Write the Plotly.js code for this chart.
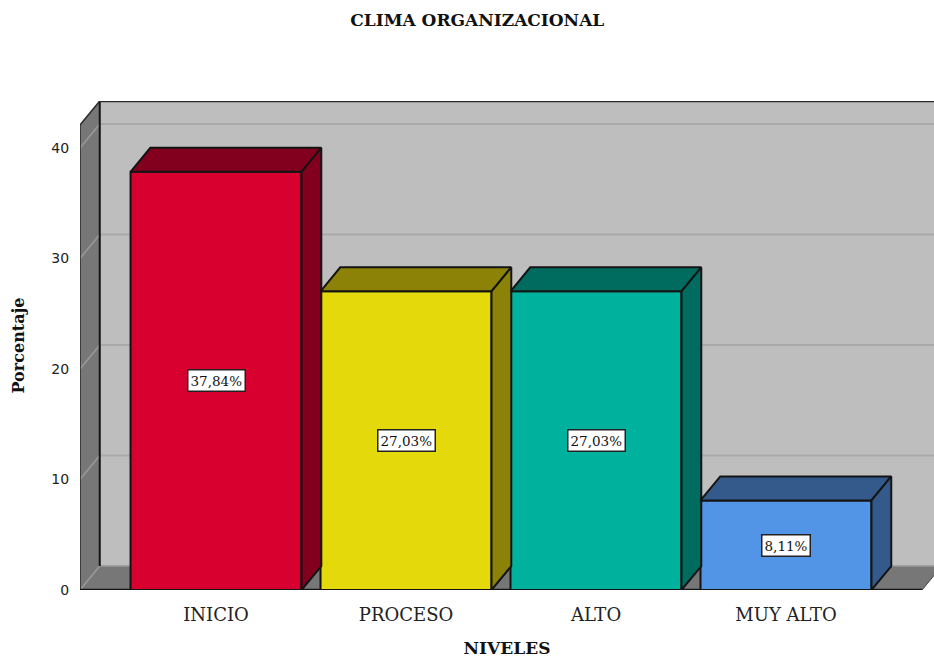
<!DOCTYPE html>
<html><head><meta charset="utf-8">
<script src="https://cdn.plot.ly/plotly-3.0.1.min.js"></script>
<style>html,body{margin:0;padding:0;background:#fff}#c{width:934px;height:668px}</style></head>
<body><div id="c"></div>
<script>
const categories = ["INICIO","PROCESO","ALTO","MUY ALTO"];
const values = [37.84,27.03,27.03,8.11];
const valueLabels = ["37,84%","27,03%","27,03%","8,11%"];
const frontColors = ["#D7002F","#E3D90B","#00B29D","#5294E5"];
const depthColors = ["#82001E","#8B8207","#006C60","#345A8C"];
const yTicks = [0,10,20,30,40];

const depthX = 0.104, depthY = 2.17;
const xMin = -0.716, xFront = 3.716, xMax = 3.779, yMax = 44.25, wallTop = 42.08;
const barWidth = 0.9;
const edge = "#141414", wall = "#BEBEBE", side = "#777777", grid = "#A9A9A9";
const xs = categories.map((_, i) => i);

function poly(pts, fill, lineColor, w){
  const p = "M" + pts.map(q => q.join(",")).join("L") + "Z";
  return {type:"path", xref:"x", yref:"y", layer:"below", path:p, fillcolor:fill,
          line:{color:lineColor||fill, width:w===undefined?0:w}};
}
function seg(x0,y0,x1,y1,c,w){
  return {type:"line", xref:"x", yref:"y", layer:"below", x0, y0, x1, y1, line:{color:c, width:w}};
}
const shapes = [
  poly([[xMin+depthX,depthY],[xMax,depthY],[xMax,yMax],[xMin+depthX,yMax]], wall),
  poly([[xMin,0],[xMin+depthX,depthY],[xMin+depthX,yMax],[xMin,wallTop]], side),
  poly([[xMin,0],[xFront,0],[xFront+depthX,depthY],[xMin+depthX,depthY]], side)
];
yTicks.slice(1).forEach(t => {
  shapes.push(seg(xMin+depthX,t+depthY,xMax,t+depthY,grid,2));
  shapes.push(seg(xMin,t,xMin+depthX,t+depthY,"#9A9A9A",1.5));
});
shapes.push(seg(xMin+depthX,0+depthY,xFront+depthX,depthY,"#999999",1.5));
shapes.push(seg(xMin,0,xMin+depthX,depthY,"#999999",1.5));
shapes.push(seg(xMin+depthX,depthY,xMin+depthX,yMax,edge,2));
shapes.push(seg(xMin+depthX,yMax,xMax,yMax,"#2a2a2a",2.5));
shapes.push(seg(xMin,0,xMin,wallTop,"#2a2a2a",1.5));
shapes.push(seg(xMin,wallTop,xMin+depthX,yMax,"#2a2a2a",1.5));
shapes.push(seg(xMin,0,xFront,0,edge,2.5));
shapes.push(seg(xFront,0,xFront+depthX,depthY,"#444",1));

const traces = [{
  type:"bar", x:xs, y:values, width:barWidth,
  marker:{color:frontColors, line:{color:edge, width:2}},
  hoverinfo:"skip", showlegend:false
}];
xs.forEach((x,i) => {
  const l = x-barWidth/2, r = x+barWidth/2, v = values[i];
  const face = (px,py) => ({type:"scatter", mode:"lines", x:px, y:py, fill:"toself",
    fillcolor:depthColors[i], line:{color:edge, width:2}, hoverinfo:"skip", showlegend:false});
  traces.push(face([l,l+depthX,r+depthX,r,l],[v,v+depthY,v+depthY,v,v]));
  traces.push(face([r,r+depthX,r+depthX,r,r],[0,depthY,v+depthY,v,0]));
});

const annotations = xs.map((x,i) => ({
  x, y:values[i]/2, xref:"x", yref:"y", text:valueLabels[i], showarrow:false,
  bgcolor:"#FFFFFF", bordercolor:"#222", borderwidth:1.5, borderpad:2,
  font:{family:"DejaVu Serif", size:13.5, color:"#111"}
}));

const layout = {
  width:934, height:668, autosize:false,
  margin:{l:80, r:0, t:101, b:78},
  paper_bgcolor:"#fff", plot_bgcolor:"#fff", showlegend:false,
  title:{text:"<b>CLIMA ORGANIZACIONAL</b>", x:0.511, xanchor:"center", y:0.97, yanchor:"middle", yref:"container",
         font:{family:"DejaVu Serif", size:17, color:"#111"}},
  xaxis:{range:[xMin,xMax], tickmode:"array", tickvals:xs, ticktext:categories, showgrid:false, zeroline:false,
         ticks:"outside", ticklen:8, tickcolor:"rgba(0,0,0,0)", tickfont:{family:"DejaVu Serif", size:18, color:"#222"},
         title:{text:"<b>NIVELES</b>", standoff:18, font:{family:"DejaVu Serif", size:17, color:"#111"}}},
  yaxis:{range:[0,yMax], tickmode:"array", tickvals:yTicks, ticktext:yTicks.map(String), showgrid:false, zeroline:false,
         ticks:"outside", ticklen:7, tickcolor:"rgba(0,0,0,0)", tickfont:{family:"DejaVu Sans", size:14, color:"#222"},
         title:{text:"<b>Porcentaje</b>", standoff:22, font:{family:"DejaVu Serif", size:16, color:"#111"}}},
  shapes, annotations
};
Plotly.newPlot("c", traces, layout, {displayModeBar:false, staticPlot:true});
</script></body></html>
